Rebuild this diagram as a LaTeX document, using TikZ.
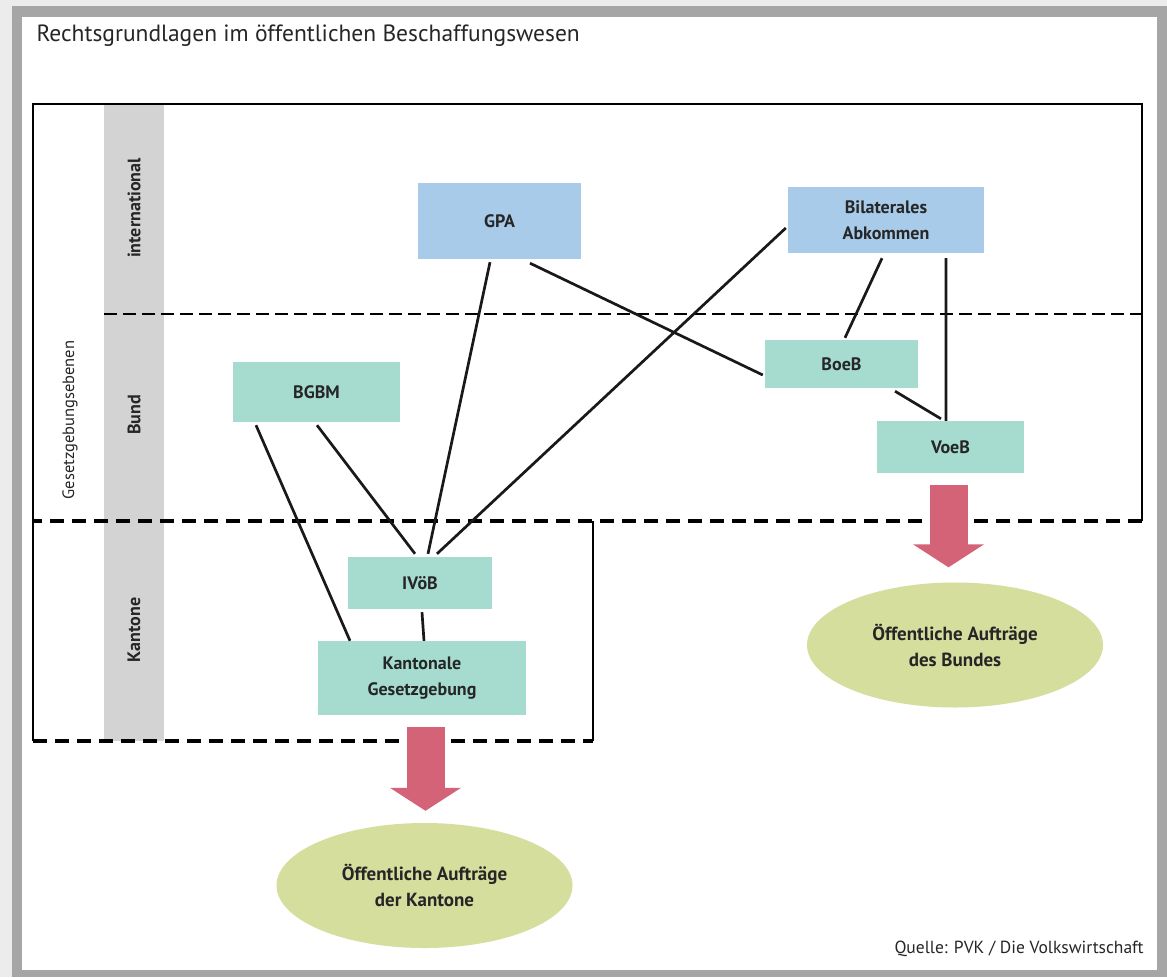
\documentclass[tikz,border=0pt]{standalone}
\usepackage{fontspec}
\setmainfont{PT Sans}
\usetikzlibrary{calc, arrows.meta, positioning, shapes}

\definecolor{intlblue}{RGB}{168,203,234}
\definecolor{natgreen}{RGB}{166,220,208}
\definecolor{orderolive}{RGB}{214,222,158}
\definecolor{arrowred}{RGB}{212,99,120}
\definecolor{bandgray}{RGB}{211,211,211}
\definecolor{inkdark}{RGB}{38,38,38}

\begin{document}
\begin{tikzpicture}[x=1pt, y=-1pt,
  lawbox/.style={rectangle, inner sep=2pt, align=center, text=inkdark,
    font=\bfseries\fontsize{18}{26}\selectfont},
  intlbox/.style={lawbox, fill=intlblue},
  natbox/.style={lawbox, fill=natgreen},
  orderbox/.style={ellipse, fill=orderolive, align=center, inner sep=0pt,
    minimum width=296, minimum height=125, text=inkdark,
    font=\bfseries\fontsize{19}{26}\selectfont},
  levellabel/.style={rotate=90, text=inkdark, font=\bfseries\fontsize{18}{20}\selectfont},
  link/.style={line width=2.7pt, black!90},
  bigarrow/.style={line width=38pt, arrowred, -{Triangle[width=70pt,length=23pt]}}]

  % page and shadow
  \useasboundingbox (0,0) rectangle (1167,977);
  \fill[gray!15] (0,0) rectangle (1167,977);
  \fill[gray!70] (12,6) rectangle (1167,977);
  \fill[white] (22,17) rectangle (1157,970);

  \node[anchor=base west, text=inkdark, font=\fontsize{23.5}{26}\selectfont] (title) at (33,41)
    {Rechtsgrundlagen im öffentlichen Beschaffungswesen};

  % levels
  \fill[bandgray] (104,104) rectangle (164,741);
  \draw[line width=1.2pt, dash pattern=on 13pt off 6pt] (104,314) -- (1142,314);
  \draw[line width=2.4pt] (33,521) -- (33,104) -- (1142,104) -- (1142,521)
    (33,521) -- (33,741) (593,521) -- (593,741);
  \draw[line width=3.2pt, dash pattern=on 14pt off 8pt] (1142,521) -- (33,521) (33,741) -- (593,741);

  \node[levellabel] (intl) at (134,208) {international};
  \node[levellabel] (bund) at (134,415) {Bund};
  \node[levellabel] (kantone) at (134,630) {Kantone};
  \node[rotate=90, text=inkdark, font=\fontsize{16.5}{18}\selectfont] (ebenen) at (70,420) {Gesetzgebungsebenen};

  % laws
  \node[intlbox, minimum width=163, minimum height=76] (gpa) at (499.5,221) {GPA};
  \node[intlbox, minimum width=196, minimum height=66] (bilat) at (886,220) {Bilaterales\\Abkommen};
  \node[natbox, minimum width=153, minimum height=48] (boeb) at (841.5,364) {BoeB};
  \node[natbox, minimum width=147, minimum height=52] (voeb) at (950.5,447) {VoeB};
  \node[natbox, minimum width=167, minimum height=60] (bgbm) at (316.5,392) {BGBM};
  \node[natbox, minimum width=144, minimum height=52] (ivoeb) at (420,583) {IVöB};
  \node[natbox, minimum width=208, minimum height=74] (kantgesetz) at (422,678) {Kantonale\\Gesetzgebung};

  % public orders
  \node[orderbox] (bundorder) at (955,645) {Öffentliche Aufträge\\des Bundes};
  \node[orderbox] (kantorder) at (424.5,885.5) {Öffentliche Aufträge\\der Kantone};

  \draw[link] ([xshift=-9.5pt,yshift=-3pt]gpa.south) -- ([xshift=8pt,yshift=3pt]ivoeb.north)
    ([xshift=30.5pt,yshift=-4pt]gpa.south) -- ([xshift=-2pt,yshift=-11pt]boeb.west)
    ([xshift=-2pt,yshift=-8pt]bilat.west) -- ([xshift=17pt,yshift=3pt]ivoeb.north)
    ([xshift=-4pt,yshift=-5pt]bilat.south) -- ([xshift=3.5pt,yshift=2pt]boeb.north)
    ([xshift=60pt,yshift=-5pt]bilat.south) -- ([xshift=-4.5pt]voeb.north)
    ([xshift=53.5pt,yshift=-3pt]boeb.south) -- ([xshift=-9.5pt,yshift=2pt]voeb.north)
    ([xshift=-60.5pt,yshift=-3pt]bgbm.south) -- ([xshift=-72pt]kantgesetz.north)
    ([xshift=0.5pt,yshift=-3pt]bgbm.south) -- ([xshift=-5pt,yshift=3pt]ivoeb.north)
    ([xshift=2pt,yshift=-3pt]ivoeb.south) -- ([xshift=2pt]kantgesetz.north);

  \draw[bigarrow, shorten <=12pt, shorten >=12pt] ([xshift=3.5pt]kantgesetz.south) -- ([xshift=3.5pt]kantgesetz.south |- kantorder.north);
  \draw[bigarrow, shorten <=12pt, shorten >=15pt] ([xshift=-2pt]voeb.south) -- ([xshift=-2pt]voeb.south |- bundorder.north);

  \node[anchor=base east, text=inkdark, font=\fontsize{17.5}{20}\selectfont] (source) at (1147,953)
    {Quelle: PVK / Die Volkswirtschaft};
\end{tikzpicture}
\end{document}
